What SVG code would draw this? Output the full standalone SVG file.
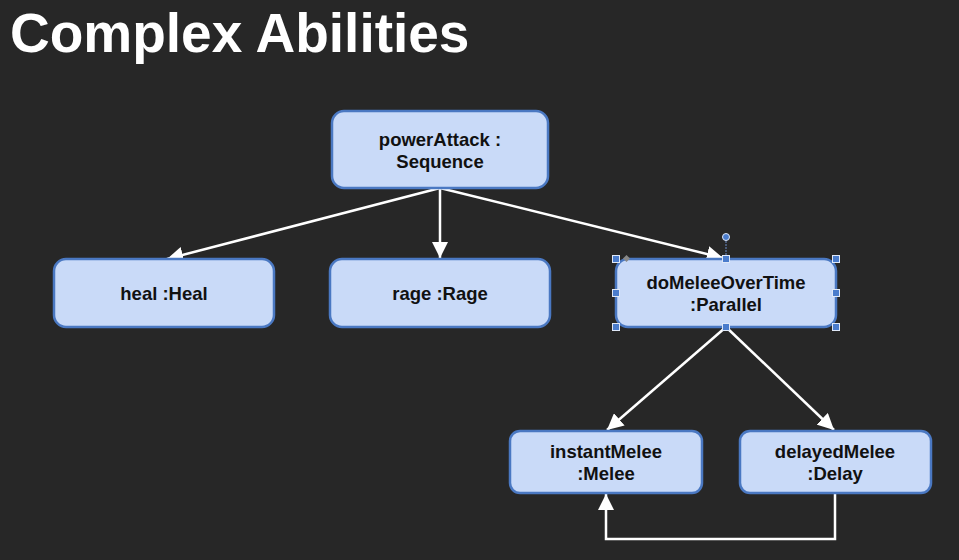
<svg xmlns="http://www.w3.org/2000/svg" width="959" height="560" viewBox="0 0 959 560">
<defs>
<style>
.node rect{fill:#c9daf8;stroke:#4a78c2;stroke-width:2.5}
.node text{font-family:"Liberation Sans",Arial,sans-serif;font-weight:bold;font-size:18.5px;fill:#111;text-anchor:middle}
.conn{stroke:#fff;stroke-width:2.5;fill:none}
.h{fill:#4a7ccc;stroke:#dfe8f7;stroke-width:1}
</style>
<marker id="arr" viewBox="0 0 10 10" refX="10" refY="5" markerWidth="6.5" markerHeight="6.5" markerUnits="strokeWidth" orient="auto">
<path d="M0,0 L10,5 L0,10 z" fill="#fff"/>
</marker>
</defs>
<rect x="0" y="0" width="959" height="560" fill="#272727"/>
<text x="10" y="52" font-family="Liberation Sans,Arial,sans-serif" font-weight="bold" font-size="55" fill="#fff">Complex Abilities</text>
<g id="connectors">
<line class="conn" x1="440" y1="188" x2="167" y2="259" marker-end="url(#arr)"/>
<line class="conn" x1="440" y1="188" x2="440" y2="258" marker-end="url(#arr)"/>
<line class="conn" x1="440" y1="188" x2="723" y2="258" marker-end="url(#arr)"/>
<line class="conn" x1="726" y1="327" x2="607" y2="430" marker-end="url(#arr)"/>
<line class="conn" x1="726" y1="327" x2="834" y2="430" marker-end="url(#arr)"/>
<polyline class="conn" points="835,493 835,539 606,539 606,494" marker-end="url(#arr)"/>
</g>
<g id="powerAttack" class="node">
<rect x="332" y="111" width="216" height="77" rx="12"/>
<text x="440" y="146">powerAttack :</text>
<text x="440" y="168">Sequence</text>
</g>
<g id="heal" class="node">
<rect x="54" y="259" width="220" height="68" rx="12"/>
<text x="164" y="300">heal :Heal</text>
</g>
<g id="rage" class="node">
<rect x="330" y="259" width="220" height="68" rx="12"/>
<text x="440" y="300">rage :Rage</text>
</g>
<g id="doMeleeOverTime" class="node">
<rect x="616" y="259" width="220" height="68" rx="12"/>
<text x="726" y="289">doMeleeOverTime</text>
<text x="726" y="311">:Parallel</text>
</g>
<g id="instantMelee" class="node">
<rect x="510" y="431" width="192" height="62" rx="10"/>
<text x="606" y="458">instantMelee</text>
<text x="606" y="480">:Melee</text>
</g>
<g id="delayedMelee" class="node">
<rect x="740" y="431" width="191" height="62" rx="10"/>
<text x="835" y="458">delayedMelee</text>
<text x="835" y="480">:Delay</text>
</g>
<g id="selection">
<line x1="726" y1="238" x2="726" y2="259" stroke="#6a8cc8" stroke-width="1" stroke-dasharray="2,1"/>
<circle cx="726" cy="237" r="3.5" class="h"/>
<rect x="624" y="256" width="5" height="5" fill="#888" transform="rotate(45 626.5 258.5)"/>
<rect class="h" x="612.5" y="255.5" width="7" height="7"/>
<rect class="h" x="722.5" y="255.5" width="7" height="7"/>
<rect class="h" x="832.5" y="255.5" width="7" height="7"/>
<rect class="h" x="612.5" y="289.5" width="7" height="7"/>
<rect class="h" x="832.5" y="289.5" width="7" height="7"/>
<rect class="h" x="612.5" y="323.5" width="7" height="7"/>
<rect class="h" x="722.5" y="323.5" width="7" height="7"/>
<rect class="h" x="832.5" y="323.5" width="7" height="7"/>
</g>
</svg>
